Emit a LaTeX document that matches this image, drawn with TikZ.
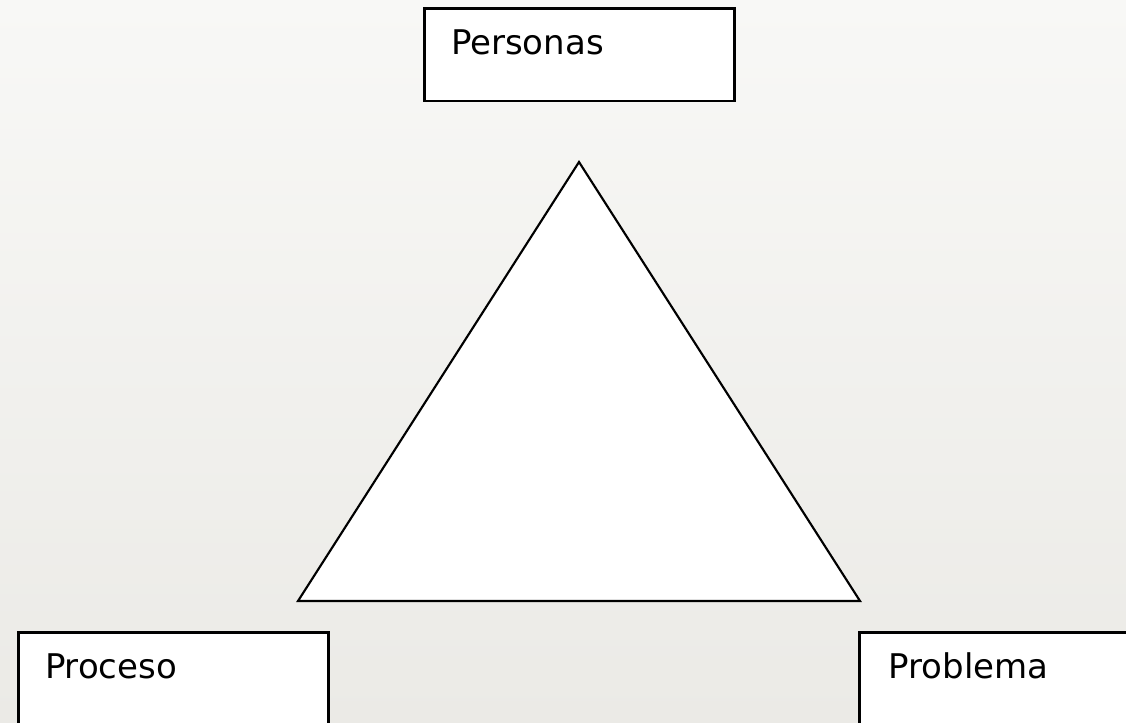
\documentclass[tikz,border=0pt]{standalone}
\usepackage{fontspec}
\setmainfont{DejaVu Sans}
\usepackage{tikz}

\definecolor{bgtop}{HTML}{F8F8F6}
\definecolor{bgbot}{HTML}{EBEAE6}

\tikzset{
    cajatexto/.style={draw=black, line width=2pt, fill=white, rectangle,
        anchor=north west, inner ysep=0pt, inner xsep=20pt,
        text width=192.5pt, align=left, font=\fontsize{25.5}{30}\selectfont,
        text height=34.5pt}
}

\begin{document}
\begin{tikzpicture}[x=0.75pt, y=-0.75pt]
    % Fondo
    \useasboundingbox (0,0) rectangle (1126,723);
    \clip (0,0) rectangle (1126,723);
    \shade[top color=bgtop, bottom color=bgbot] (0,0) rectangle (1126,723);

    % Triangulo
    \draw[line width=1.6pt, fill=white, line join=miter]
        (579,162) -- (860,601) -- (298,601) -- cycle;

    % Cajas
    \node[cajatexto, text depth=35pt] (personas) at (423,7) {Personas};
    \node[cajatexto, text depth=60pt] (proceso) at (17,631) {Proceso};
    \node[cajatexto, text depth=60pt, inner xsep=22pt] (problema) at (858,631) {Problema};
\end{tikzpicture}
\end{document}
